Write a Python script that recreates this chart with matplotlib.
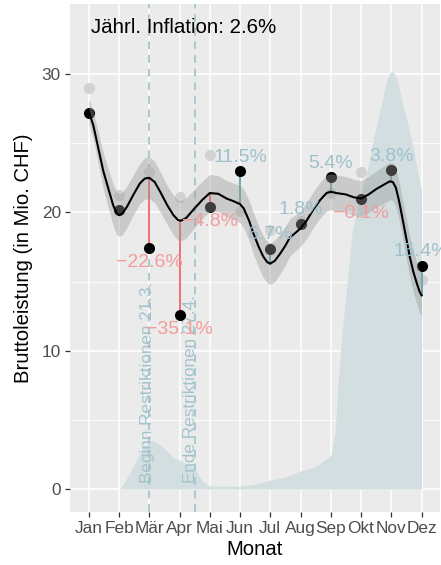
import numpy as np
import matplotlib
matplotlib.use("Agg")
import matplotlib.pyplot as plt

plt.rcParams['font.family'] = ['Liberation Sans', 'DejaVu Sans']

months = ["Jan", "Feb", "Mär", "Apr", "Mai", "Jun", "Jul", "Aug", "Sep", "Okt", "Nov", "Dez"]
month_nr = np.arange(1, 13)

# Bruttoleistung 2020 und Vorjahr (Mio. CHF)
actual = [27.2, 20.2, 17.41, 12.59, 20.37, 22.97, 17.39, 19.19, 22.56, 20.98, 23.04, 16.16]
previous = [29.0, 21.25, 22.9, 21.1, 24.15, 20.1, 18.7, 19.4, 21.4, 22.9, 23.2, 15.1]

# Trendwert je Monat und Abweichung in Prozent
trend_month = [27.3, 19.8, 22.5, 19.4, 21.4, 20.6, 16.3, 18.85, 21.4, 21.0, 22.2, 14.0]
pct = [None, None, -22.6, -35.1, -4.8, 11.5, 6.7, 1.8, 5.4, -0.1, 3.8, 15.4]

# geglaetteter Verlauf mit Konfidenzband
smooth_x = [1.0, 1.15, 1.32, 1.48, 1.65, 1.81, 1.92, 2.01, 2.12, 2.26, 2.48, 2.69, 2.85, 3.0,
            3.18, 3.36, 3.6, 3.8, 3.95, 4.05, 4.22, 4.46, 4.75, 5.0, 5.28, 5.56, 5.8, 6.0,
            6.12, 6.3, 6.44, 6.62, 6.77, 6.9, 7.0, 7.15, 7.32, 7.5, 7.65, 7.82, 8.0, 8.2,
            8.42, 8.65, 8.86, 9.0, 9.19, 9.5, 9.75, 10.0, 10.25, 10.51, 10.75, 10.95, 11.05,
            11.15, 11.25, 11.34, 11.48, 11.61, 11.73, 11.84, 11.93, 12.0]
smooth_y = [27.3, 26.3, 24.6, 23.0, 21.7, 20.5, 19.95, 19.8, 19.95, 20.4, 21.3, 22.1, 22.45, 22.5,
            22.2, 21.5, 20.5, 19.8, 19.45, 19.4, 19.6, 20.2, 20.9, 21.4, 21.35, 21.0, 20.8, 20.6,
            20.3, 19.4, 18.5, 17.5, 16.8, 16.4, 16.3, 16.5, 17.0, 17.6, 18.2, 18.5, 18.85, 19.4,
            20.2, 20.9, 21.4, 21.5, 21.4, 21.3, 21.1, 21.0, 21.3, 21.7, 22.0, 22.25, 22.2,
            21.8, 20.9, 19.9, 18.3, 16.8, 15.7, 14.9, 14.3, 14.0]
band = [0.9, 1.0, 1.15, 1.3, 1.4, 1.5, 1.55, 1.55, 1.55, 1.5, 1.45, 1.45, 1.5, 1.5,
        1.5, 1.45, 1.4, 1.45, 1.45, 1.45, 1.45, 1.4, 1.35, 1.35, 1.3, 1.3, 1.3, 1.35,
        1.4, 1.45, 1.5, 1.5, 1.5, 1.5, 1.5, 1.5, 1.45, 1.4, 1.35, 1.3, 1.3, 1.3,
        1.3, 1.3, 1.3, 1.3, 1.3, 1.3, 1.3, 1.3, 1.3, 1.3, 1.35, 1.35, 1.35,
        1.4, 1.4, 1.4, 1.45, 1.45, 1.5, 1.5, 1.5, 1.5]

# Fallzahlen (skaliert) als Hintergrundflaeche
case_x = [2.01, 2.13, 2.46, 2.79, 3.12, 3.45, 3.78, 4.12, 4.45, 4.78, 5.01, 6.0, 6.5, 6.99,
          7.48, 7.99, 8.48, 8.81, 9.0, 9.14, 9.24, 9.37, 9.5, 9.7, 9.95, 10.2, 10.4, 10.7,
          10.85, 11.02, 11.2, 11.35, 11.5, 11.68, 11.85, 12.0]
case_y = [0.0, 0.29, 1.59, 3.04, 3.54, 3.04, 2.31, 1.95, 1.59, 0.51, 0.22, 0.2, 0.35, 0.65,
          0.85, 1.3, 1.6, 2.1, 2.45, 4.0, 7.7, 11.3, 14.0, 18.5, 21.0, 23.0, 25.2, 28.1,
          29.6, 30.3, 29.6, 28.1, 26.8, 25.2, 23.2, 21.5]

events_x = [3.0, 4.5]
events_label = ["Beginn Restriktionen 21.3.", "Ende Restriktionen 27.4."]
events_text_x = [2.94, 4.35]
inflation = 2.6

bg = "#EBEBEB"
pos_line, pos_text = "#6FA6B3", "#9DC1CB"
neg_line, neg_text = "#EE7070", "#F29C9C"
event_col = "#A9C9CF"

fig = plt.figure(figsize=(4.41, 5.65), dpi=100)
ax = fig.add_axes([70 / 441, 53 / 565, 370 / 441, 508 / 565])
ax.set_facecolor(bg)

ax.fill_between(case_x, 0, case_y, color="#D3DEE1", lw=0, zorder=1)

for ex in events_x:
    ax.axvline(ex, color=event_col, lw=1.4, ls=(0, (4, 3)), zorder=2)
for tx, lab in zip(events_text_x, events_label):
    ax.text(tx, 0.45, lab, rotation=90, ha="left", va="center", rotation_mode="anchor",
            fontsize=12.3, color="#A3C3CB", zorder=3)

ax.scatter(month_nr, previous, s=64, color="#D2D2D2", lw=0, zorder=3)

for m, a, t, p in zip(month_nr, actual, trend_month, pct):
    if p is None:
        continue
    ax.plot([m, m], [t, a], color=neg_line if p < 0 else pos_line, lw=1.4, zorder=4)

ax.scatter(month_nr, actual, s=64, color="black", lw=0, zorder=5)

sx = np.array(smooth_x)
sy = np.array(smooth_y)
sb = np.array(band)
ax.fill_between(sx, sy - sb, sy + sb, color="#999999", alpha=0.4, lw=0, zorder=6)
ax.plot(sx, sy, color="black", lw=1.5, zorder=7)

for m, a, p in zip(month_nr, actual, pct):
    if p is None:
        continue
    txt = f"{p:.1f}%".replace("-", "\u2212")
    if p < 0:
        ax.text(m, a - 1.05, txt, ha="center", va="center", fontsize=14, color=neg_text, zorder=8)
    else:
        ax.text(m, a + 1.0, txt, ha="center", va="center", fontsize=14, color=pos_text, zorder=8)

ax.text(4.12, 33.4, f"Jährl. Inflation: {inflation}%", ha="center", va="center",
        fontsize=14.8, color="black", zorder=8)

ax.set_xlim(0.38, 12.61)
ax.set_ylim(-1.66, 35.07)
ax.set_xticks(month_nr)
ax.set_xticklabels(months)
ax.set_yticks([0, 10, 20, 30])
ax.set_yticks([5, 15, 25], minor=True)
ax.grid(which="major", color="white", lw=1.1, zorder=0)
ax.grid(which="minor", axis="y", color="white", lw=0.55, zorder=0)
ax.set_axisbelow(True)
for s in ax.spines.values():
    s.set_visible(False)
ax.tick_params(which="major", length=3.4, width=0.9, color="#333333", labelsize=12.4,
               labelcolor="#4D4D4D", pad=3.2)
ax.tick_params(which="minor", length=0)
ax.set_xlabel("Monat", fontsize=14.6, labelpad=3)
ax.set_ylabel("Bruttoleistung (in Mio. CHF)", fontsize=14.6, labelpad=6)

fig.savefig("out.png", dpi=100)
